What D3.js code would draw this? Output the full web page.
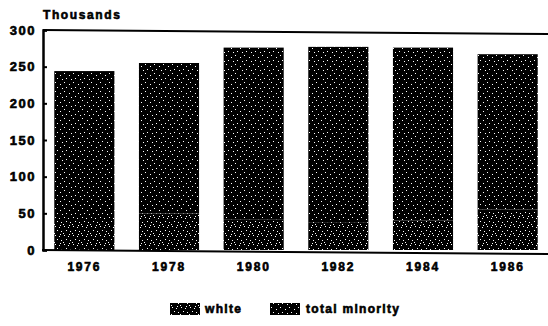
<!DOCTYPE html>
<html><head><meta charset="utf-8">
<script src="https://cdn.jsdelivr.net/npm/d3@7"></script>
<style>
html,body{margin:0;padding:0;background:#fff;}
text{font-family:"Liberation Sans",Arial,sans-serif;font-weight:bold;fill:#000;stroke:#000;stroke-width:0.6px;}
</style></head>
<body>
<svg id="c" width="548" height="326"></svg>
<script>
const years = ["1976","1978","1980","1982","1984","1986"];
const white = [45, 50, 42, 38, 40, 55];
const totalMinority = [199, 205, 234, 239, 236, 212];
const yTicks = [0, 50, 100, 150, 200, 250, 300];
const seriesKeys = ["white", "total minority"];

const rows = years.map((y, i) => ({year: y, "white": white[i], "total minority": totalMinority[i]}));

const svg = d3.select("#c");
const defs = svg.append("defs");

function speckle(id, bg, dots) {
  const p = defs.append("pattern").attr("id", id).attr("patternUnits", "userSpaceOnUse")
    .attr("width", 9).attr("height", 9);
  p.append("rect").attr("width", 9).attr("height", 9).attr("fill", bg);
  dots.forEach(d => p.append("rect").attr("x", d[0]).attr("y", d[1]).attr("width", d[2]).attr("height", 1).attr("fill", "#fff"));
}
speckle("patWhite", "#000", [[1,1,1],[5,2,1],[3,5,1],[7,6,1],[0,8,1],[6,0,1]]);
speckle("patMin", "#000", [[1,1,1],[6,3,1],[3,6,1],[8,7,1]]);

const x = d3.scaleBand().domain(years).range([42, 550]).paddingInner(0.29).paddingOuter(0.145);
const y = d3.scaleLinear().domain([0, 300]).range([250, 30]);

const stack = d3.stack().keys(seriesKeys)(rows);
const fills = {"white": "url(#patWhite)", "total minority": "url(#patMin)"};

svg.append("g").selectAll("g").data(stack).join("g")
  .attr("fill", d => fills[d.key])
  .selectAll("rect").data(d => d).join("rect")
  .attr("x", d => x(d.data.year))
  .attr("width", x.bandwidth())
  .attr("y", d => y(d[1]))
  .attr("height", d => y(d[0]) - y(d[1]));

// frame lines
svg.append("line").attr("x1", 43).attr("x2", 548).attr("y1", y(300)).attr("y2", y(300) + 4)
  .attr("stroke", "#000").attr("stroke-width", 2);
svg.append("line").attr("x1", 42).attr("x2", 548).attr("y1", y(0)).attr("y2", y(0) + 4)
  .attr("stroke", "#000").attr("stroke-width", 2);

// y axis
const yAxis = d3.axisRight(y).tickValues(yTicks).tickSize(4).tickFormat("");
const ga = svg.append("g").attr("transform", "translate(43,0)").call(yAxis);
ga.select(".domain").attr("stroke", "#000").attr("stroke-width", 2.5);
ga.selectAll(".tick line").attr("stroke", "#000").attr("stroke-width", 2);

svg.append("g").selectAll("text").data(yTicks).join("text")
  .attr("x", 36).attr("y", d => y(d)).attr("dy", "0.36em")
  .attr("text-anchor", "end").attr("font-size", 13).attr("letter-spacing", 1.5)
  .text(d => d);

svg.append("text").attr("x", 43).attr("y", 19).attr("font-size", 12).attr("letter-spacing", 1.6)
  .text("Thousands");

// x labels
const xAxis = d3.axisBottom(x).tickSize(0).tickPadding(12);
const gx = svg.append("g").attr("transform", `translate(0,${y(0)})`).call(xAxis);
gx.select(".domain").remove();
gx.selectAll("text").attr("font-size", 12).attr("letter-spacing", 1.8)
  .attr("font-family", "'Liberation Sans',Arial,sans-serif").attr("font-weight", "bold");

// legend
const legend = [
  {key: "white", sx: 170, tx: 205},
  {key: "total minority", sx: 270, tx: 306}
];
const lg = svg.append("g").selectAll("g").data(legend).join("g");
lg.append("rect").attr("x", d => d.sx).attr("y", 303).attr("width", 30).attr("height", 12)
  .attr("fill", d => fills[d.key]);
lg.append("text").attr("x", d => d.tx).attr("y", 309).attr("dy", "0.36em")
  .attr("font-size", 12).attr("letter-spacing", 1.3).text(d => d.key);
</script>
</body></html>
